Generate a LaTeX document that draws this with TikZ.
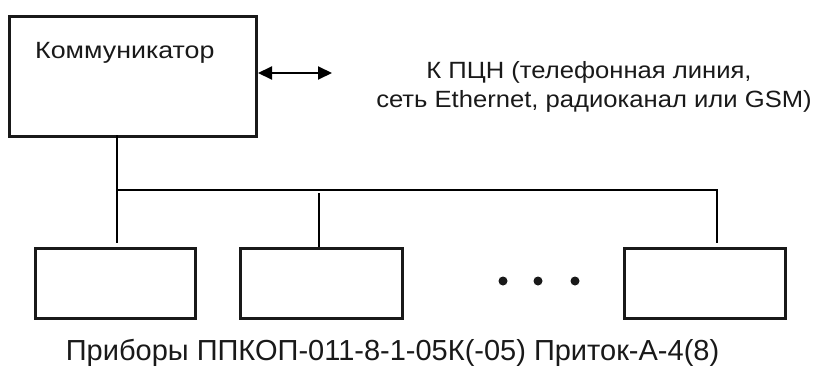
\documentclass[tikz,border=0pt]{standalone}
\usepackage{fontspec}
\setmainfont{Liberation Sans}
\usetikzlibrary{arrows.meta}
\begin{document}
\begin{tikzpicture}[x=1pt,y=-1pt,
  blk/.style={draw=black!90,line width=3pt,minimum width=#1,inner sep=0pt,anchor=north west},
  wire/.style={line width=2pt,black},
  lbl/.style={font=\fontsize{23.5}{29}\selectfont,inner sep=0pt,text=black!90}]
\useasboundingbox (0,0) rectangle (823,367);
% boxes
\node[blk=247pt,minimum height=120pt] (comm) at (8,15) {};
\node[blk=160pt,minimum height=70pt] (b1) at (34,247) {};
\node[blk=162pt,minimum height=70pt] (b2) at (239,247) {};
\node[blk=161pt,minimum height=70pt] (b3) at (623,247) {};
% labels
\node[lbl,anchor=base west] (commlbl) at (35,58) {\scalebox{1.14}[1]{Коммуникатор}};
\node[lbl,anchor=base] (ext1) at (589,78) {\scalebox{1.09}[1]{К ПЦН (телефонная линия,}};
\node[lbl,anchor=base] (ext2) at (594,107) {\scalebox{1.09}[1]{сеть Ethernet, радиоканал или GSM)}};
\node[lbl,font=\fontsize{29}{34}\selectfont,anchor=base] (cap) at (392.5,360) {Приборы ППКОП-011-8-1-05К(-05) Приток-А-4(8)};
% arrow
\coordinate (aend) at (332,73);
\draw[wire,{Triangle[length=14pt,width=13pt]}-{Triangle[length=14pt,width=13pt]}] (comm.east |- aend) -- (aend);
% bus
\coordinate (d0) at (117,135);
\coordinate (d1) at (117,243);
\coordinate (j0) at (117,190);
\coordinate (j3) at (717,190);
\coordinate (d3) at (717,243);
\coordinate (m0) at (319,193);
\draw[wire] (d0) -- (d1);
\draw[wire] (j0) -- (j3) -- (d3);
\draw[wire] (m0) -- (m0 |- b2.north);
% dots
\foreach \x/\n in {503/p1,538/p2,575/p3}
  \fill[black!90] (\x,281) circle (4.5pt) coordinate (\n);
\end{tikzpicture}
\end{document}
